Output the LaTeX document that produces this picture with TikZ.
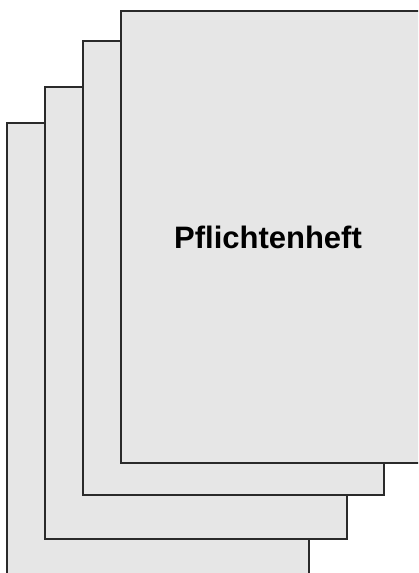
\documentclass[tikz,border=0pt]{standalone}
\usepackage{fontspec}
\setmainfont{Liberation Sans}
\definecolor{pagefill}{HTML}{E6E6E6}
\definecolor{pageline}{HTML}{2A2A2A}
\begin{document}
\begin{tikzpicture}[x=1pt,y=-1pt,
  sheet/.style={draw=pageline, fill=pagefill, line width=2pt}]
\useasboundingbox (0,0) rectangle (418,573);
\clip (0,0) rectangle (418,573);
\draw[sheet] (7,123) rectangle (309,590);
\draw[sheet] (45,87) rectangle (347,539);
\draw[sheet] (83,41) rectangle (384,495);
\draw[sheet] (121,11) rectangle (430,463);
\node[font=\bfseries\fontsize{31}{36}\selectfont, inner sep=0pt] (title) at (268,237) {Pflichtenheft};
\end{tikzpicture}
\end{document}
